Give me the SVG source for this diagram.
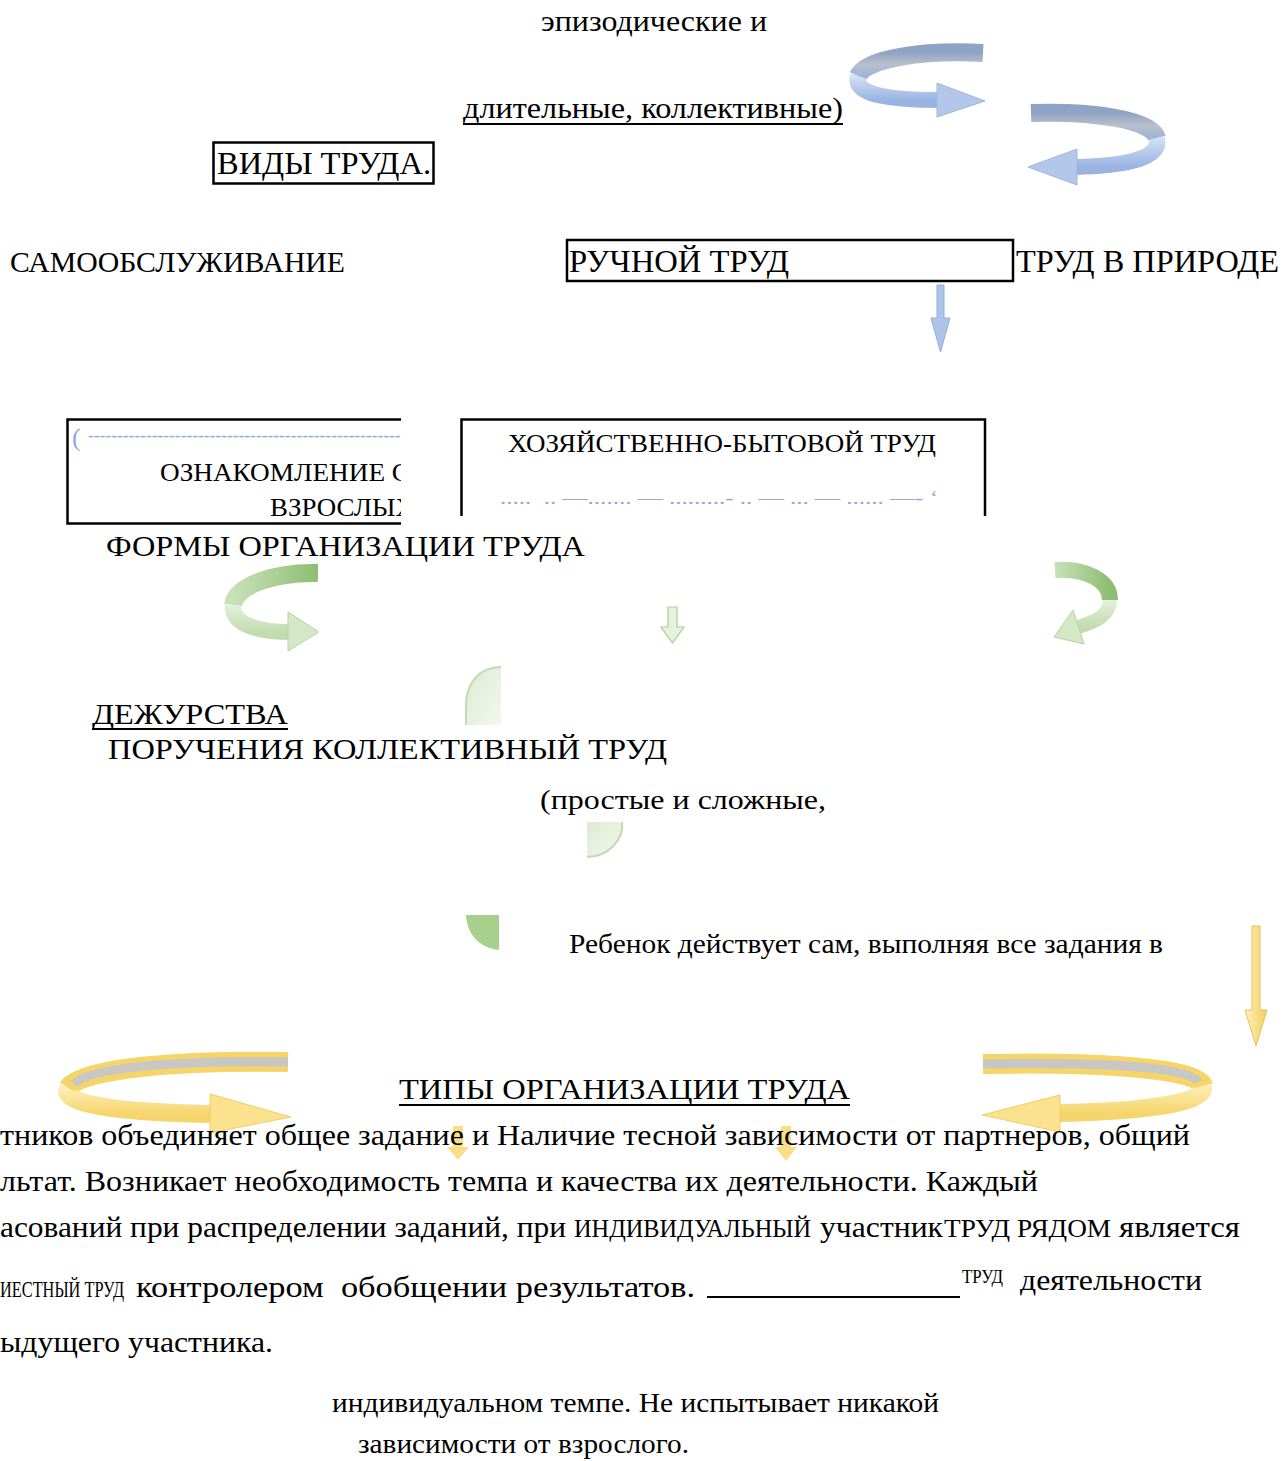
<svg xmlns="http://www.w3.org/2000/svg" width="1283" height="1461" viewBox="0 0 1283 1461">
<style>
.t{font-family:"Liberation Serif","Times New Roman",serif;fill:#000;white-space:pre}
.box{fill:none;stroke:#000;stroke-width:2.5}
.ul{stroke:#000;stroke-width:2}
.blu{font-family:"Liberation Serif","Times New Roman",serif;fill:#8eaadb;white-space:pre}
.rib{fill:none;stroke-linecap:butt}
</style>
<defs>
<linearGradient id="bBack" x1="0" y1="0" x2="0" y2="1"><stop offset="0" stop-color="#8fa3c4"/><stop offset="0.5" stop-color="#b9bfcc"/><stop offset="1" stop-color="#9fb3d8"/></linearGradient>
<linearGradient id="bFront" x1="0" y1="0" x2="0" y2="1"><stop offset="0" stop-color="#d3e0f5"/><stop offset="1" stop-color="#9ab4e2"/></linearGradient>
<linearGradient id="gBack" x1="0" y1="0" x2="1" y2="0"><stop offset="0" stop-color="#c9e0b9"/><stop offset="1" stop-color="#8dbd72"/></linearGradient>
<linearGradient id="gFront" x1="0" y1="0" x2="0" y2="1"><stop offset="0" stop-color="#e4f0db"/><stop offset="1" stop-color="#c2dcb0"/></linearGradient>
<linearGradient id="yFront" x1="0" y1="0" x2="0" y2="1"><stop offset="0" stop-color="#fdeeb8"/><stop offset="1" stop-color="#f6d56c"/></linearGradient>
<linearGradient id="yDown" x1="0" y1="0" x2="1" y2="0"><stop offset="0" stop-color="#fff2c4"/><stop offset="1" stop-color="#f2cd58"/></linearGradient>
<linearGradient id="gShape" x1="0" y1="0" x2="1" y2="1"><stop offset="0" stop-color="#dcebd1"/><stop offset="1" stop-color="#f3f8ef"/></linearGradient>
<clipPath id="clipL"><rect x="0" y="400" width="401" height="130"/></clipPath>
<clipPath id="clipG"><rect x="200" y="555" width="118" height="100"/></clipPath>
</defs>

<g id="connectors">
  <g id="blue-curl-1">
    <path class="rib" d="M983,53 C925,50 866,58 858,76" stroke="url(#bBack)" stroke-width="18"/>
    <path class="rib" d="M858,76 C852,96 895,100 940,100" stroke="url(#bFront)" stroke-width="16"/>
    <polygon points="937,83 985,101 937,117" fill="#b3c7ea" stroke="#a2b6dc" stroke-width="1"/>
  </g>
  <g id="blue-curl-2">
    <path class="rib" d="M1031,113 C1095,111 1152,120 1157,138" stroke="url(#bBack)" stroke-width="18"/>
    <path class="rib" d="M1157,138 C1162,160 1120,166 1075,167" stroke="url(#bFront)" stroke-width="16"/>
    <polygon points="1077,149 1028,167 1077,185" fill="#b3c7ea" stroke="#a2b6dc" stroke-width="1"/>
  </g>
  <path id="blue-down" d="M937,285 L944,285 L944,318 L950,318 L940.5,352 L931,318 L937,318 Z" fill="#aec3e8" stroke="#94add9" stroke-width="1"/>

  <g id="green-curl-left" clip-path="url(#clipG)">
    <path class="rib" d="M318,573 C275,572 236,585 233,605" stroke="url(#gBack)" stroke-width="18"/>
    <path class="rib" d="M233,605 C231,625 260,632 290,632" stroke="url(#gFront)" stroke-width="16"/>
    <polygon points="288,612 319,632 288,651" fill="#d4e8c6" stroke="#b5d3a1" stroke-width="1"/>
  </g>
  <path id="green-down" d="M668,607 L677,607 L677,627 L684,627 L672.5,643 L661,627 L668,627 Z" fill="#e6f1de" stroke="#a9d18e" stroke-width="1.2"/>
  <g id="green-curl-right">
    <path class="rib" d="M1055,570 C1085,568 1110,580 1110,600" stroke="url(#gBack)" stroke-width="16"/>
    <path class="rib" d="M1110,600 C1110,615 1095,622 1078,627" stroke="url(#gFront)" stroke-width="14"/>
    <polygon points="1073,610 1054,637 1084,644" fill="#d4e8c6" stroke="#b5d3a1" stroke-width="1"/>
  </g>

  <g id="yellow-down">
    <path d="M1252,926 L1260,926 L1260,1010 L1267,1010 L1256,1046 L1245,1010 L1252,1010 Z" fill="url(#yDown)" stroke="#e6c257" stroke-width="1"/>
  </g>
  <g id="yellow-curl-left">
    <path class="rib" d="M288,1062 C180,1060 82,1068 68,1088" stroke="#f5d46a" stroke-width="20"/>
    <path class="rib" d="M288,1062 C180,1060 90,1067 74,1084" stroke="#c9c7c3" stroke-width="9"/>
    <path class="rib" d="M68,1088 C58,1108 150,1113 212,1114" stroke="url(#yFront)" stroke-width="18"/>
    <polygon points="210,1094 291,1117 210,1133" fill="#fbe28f" stroke="#f0cf66" stroke-width="1"/>
  </g>
  <g id="yellow-curl-right">
    <path class="rib" d="M983,1064 C1100,1062 1198,1068 1203,1086" stroke="#f5d46a" stroke-width="20"/>
    <path class="rib" d="M983,1064 C1100,1062 1192,1067 1198,1082" stroke="#c9c7c3" stroke-width="9"/>
    <path class="rib" d="M1203,1086 C1208,1106 1120,1112 1058,1113" stroke="url(#yFront)" stroke-width="18"/>
    <polygon points="1060,1095 982,1115 1060,1132" fill="#fbe28f" stroke="#f0cf66" stroke-width="1"/>
  </g>
  <g id="yellow-small" opacity="0.85">
    <path d="M453,1126 L463,1126 L463,1147 L469,1147 L458,1160 L447,1147 L453,1147 Z" fill="#f7d873"/>
    <path d="M781,1126 L791,1126 L791,1147 L797,1147 L786,1161 L775,1147 L781,1147 Z" fill="#f7d873"/>
  </g>
</g>

<g id="green-shapes">
  <path d="M501,667 C478,667 466,685 466,705 L466,725 L501,725 Z" fill="url(#gShape)"/>
  <path d="M501,667 C478,667 466,685 466,705 L466,725" fill="none" stroke="#c3dbb1" stroke-width="2"/>
  <path d="M587,822 L622,822 C624,840 608,857 587,857 Z" fill="url(#gShape)"/>
  <path d="M622,822 C624,840 608,857 587,857" fill="none" stroke="#c3dbb1" stroke-width="2"/>
  <path d="M466,915 L499,915 L499,950 C480,948 467,935 466,915 Z" fill="#a8d08d"/>
</g>

<g id="top-notes">
  <text class="t" x="541" y="31" font-size="30" textLength="226" lengthAdjust="spacingAndGlyphs">эпизодические и</text>
  <text class="t" x="463" y="118" font-size="30" textLength="380" lengthAdjust="spacingAndGlyphs">длительные, коллективные)</text>
  <line class="ul" x1="463" y1="124" x2="843" y2="124"/>
</g>

<g id="node-vidy">
  <rect class="box" x="213.5" y="142.5" width="220" height="41"/>
  <text class="t" x="217" y="174" font-size="31" textLength="214" lengthAdjust="spacingAndGlyphs">ВИДЫ ТРУДА.</text>
</g>

<g id="node-samoobsl">
  <text class="t" x="10" y="272" font-size="29" textLength="335" lengthAdjust="spacingAndGlyphs">САМООБСЛУЖИВАНИЕ</text>
</g>
<g id="node-ruchnoy">
  <rect class="box" x="567" y="240" width="446" height="41"/>
  <text class="t" x="569" y="272" font-size="31" textLength="220" lengthAdjust="spacingAndGlyphs">РУЧНОЙ ТРУД</text>
</g>
<g id="node-priroda">
  <text class="t" x="1016" y="272" font-size="31" textLength="263" lengthAdjust="spacingAndGlyphs">ТРУД В ПРИРОДЕ</text>
</g>

<g id="node-oznakomlenie">
  <path class="box" d="M401,419.5 L67.5,419.5 L67.5,523.5 L401,523.5" stroke-width="2.2"/>
  <g clip-path="url(#clipL)">
    <text class="blu" x="72" y="446" font-size="26">(</text>
    <text class="blu" x="88" y="441" font-size="18" textLength="330" lengthAdjust="spacingAndGlyphs">---------------------------------------------------------</text>
    <text class="t" x="160" y="481" font-size="26" textLength="250" lengthAdjust="spacingAndGlyphs">ОЗНАКОМЛЕНИЕ С</text>
    <text class="t" x="270" y="516" font-size="26" textLength="145" lengthAdjust="spacingAndGlyphs">ВЗРОСЛЫХ</text>
  </g>
</g>

<g id="node-hozbyt">
  <path class="box" d="M461.5,516 L461.5,419.5 L985,419.5 L985,516" stroke-width="2.2"/>
  <text class="t" x="508" y="452" font-size="26" textLength="428" lengthAdjust="spacingAndGlyphs">ХОЗЯЙСТВЕННО-БЫТОВОЙ ТРУД</text>
  <text class="blu" x="500" y="504" font-size="18" textLength="438" lengthAdjust="spacingAndGlyphs">.....  .. —....... — .........- .. — ... — ...... —- ‘</text>
</g>

<g id="node-formy">
  <text class="t" x="106" y="556" font-size="30" textLength="479" lengthAdjust="spacingAndGlyphs">ФОРМЫ ОРГАНИЗАЦИИ ТРУДА</text>
</g>

<g id="node-dezhurstva">
  <text class="t" x="92" y="724" font-size="30" textLength="196" lengthAdjust="spacingAndGlyphs">ДЕЖУРСТВА</text>
  <line class="ul" x1="92" y1="729" x2="288" y2="729"/>
</g>
<g id="node-porucheniya">
  <text class="t" x="108" y="759" font-size="30" textLength="559" lengthAdjust="spacingAndGlyphs">ПОРУЧЕНИЯ КОЛЛЕКТИВНЫЙ ТРУД</text>
</g>
<g id="node-prostye">
  <text class="t" x="540" y="809" font-size="28" textLength="286" lengthAdjust="spacingAndGlyphs">(простые и сложные,</text>
</g>
<g id="node-rebenok">
  <text class="t" x="569" y="953" font-size="27" textLength="594" lengthAdjust="spacingAndGlyphs">Ребенок действует сам, выполняя все задания в</text>
</g>

<g id="node-tipy">
  <text class="t" x="399" y="1099" font-size="30" textLength="451" lengthAdjust="spacingAndGlyphs">ТИПЫ ОРГАНИЗАЦИИ ТРУДА</text>
  <line class="ul" x1="399" y1="1105" x2="850" y2="1105"/>
</g>

<g id="paragraph">
  <text class="t" x="0" y="1145" font-size="30" textLength="1190" lengthAdjust="spacingAndGlyphs">тников объединяет общее задание и Наличие тесной зависимости от партнеров, общий</text>
  <text class="t" x="0" y="1191" font-size="30" textLength="1038" lengthAdjust="spacingAndGlyphs">льтат. Возникает необходимость темпа и качества их деятельности. Каждый</text>
  <text class="t" x="0" y="1237" font-size="30" textLength="566" lengthAdjust="spacingAndGlyphs">асований при распределении заданий, при</text>
  <text class="t" x="574" y="1237" font-size="25" textLength="237" lengthAdjust="spacingAndGlyphs">ИНДИВИДУАЛЬНЫЙ</text>
  <text class="t" x="820" y="1237" font-size="30" textLength="123" lengthAdjust="spacingAndGlyphs">участник</text>
  <text class="t" x="944" y="1237" font-size="25" textLength="167" lengthAdjust="spacingAndGlyphs">ТРУД РЯДОМ</text>
  <text class="t" x="1119" y="1237" font-size="30" textLength="121" lengthAdjust="spacingAndGlyphs">является</text>
  <text class="t" transform="translate(0,1297) scale(0.68,1)" x="0" y="0" font-size="24">ИЕСТНЫЙ ТРУД</text>
  <text class="t" x="136" y="1297" font-size="30" textLength="559" lengthAdjust="spacingAndGlyphs">контролером  обобщении результатов.</text>
  <line class="ul" x1="707" y1="1297" x2="960" y2="1297" stroke-width="2.5"/>
  <text class="t" x="962" y="1283" font-size="18" textLength="41" lengthAdjust="spacingAndGlyphs">ТРУД</text>
  <text class="t" x="1020" y="1290" font-size="30" textLength="182" lengthAdjust="spacingAndGlyphs">деятельности</text>
  <text class="t" x="0" y="1352" font-size="30" textLength="273" lengthAdjust="spacingAndGlyphs">ыдущего участника.</text>
</g>

<g id="node-individ">
  <text class="t" x="332" y="1412" font-size="28" textLength="607" lengthAdjust="spacingAndGlyphs">индивидуальном темпе. Не испытывает никакой</text>
  <text class="t" x="358" y="1453" font-size="28" textLength="331" lengthAdjust="spacingAndGlyphs">зависимости от взрослого.</text>
</g>
</svg>
